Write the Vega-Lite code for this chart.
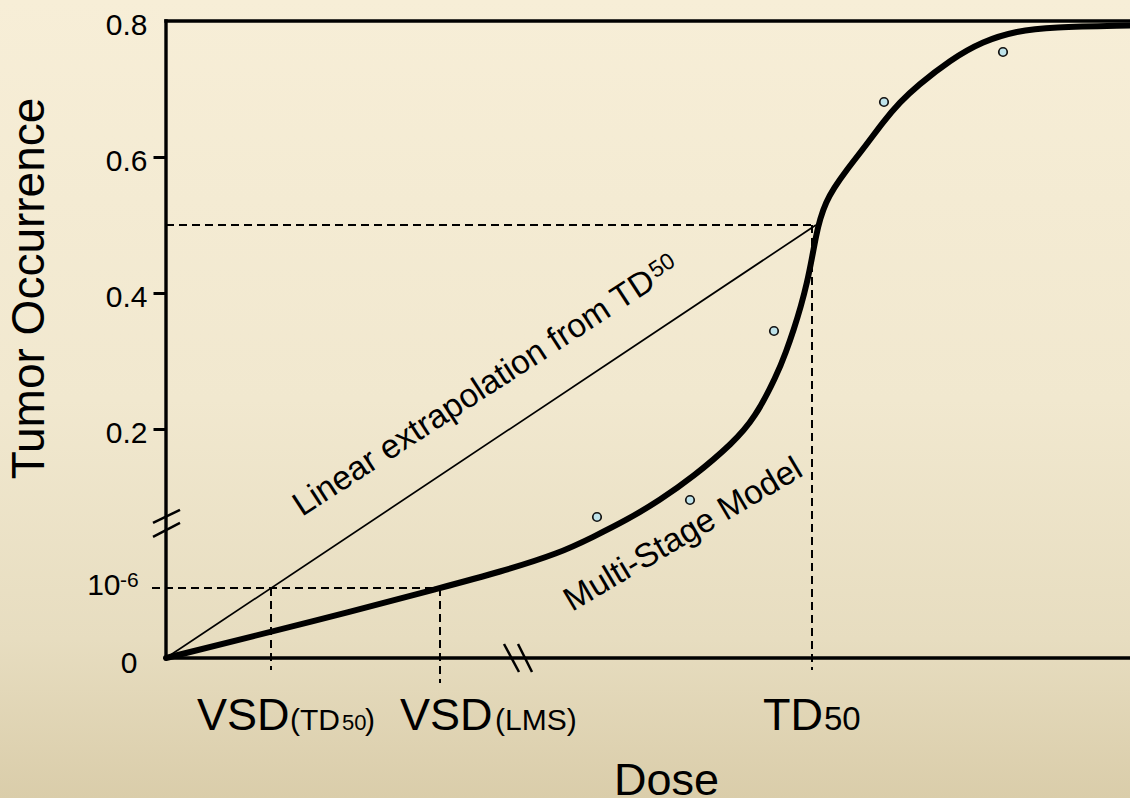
{
  "$schema": "https://vega.github.io/schema/vega-lite/v6.json",
  "width": 1130,
  "height": 798,
  "autosize": "none",
  "padding": 0,
  "background": "#efe6cc",
  "config": {
    "font": "Liberation Sans",
    "view": {
      "stroke": null,
      "fill": {
        "gradient": "linear",
        "x1": 0, "y1": 0, "x2": 0, "y2": 1,
        "stops": [
          {"offset": 0, "color": "#f7eed7"},
          {"offset": 0.5, "color": "#f1e8cf"},
          {"offset": 0.8, "color": "#e7ddc0"},
          {"offset": 1, "color": "#dacdaa"}
        ]
      }
    }
  },
  "encoding": {
    "x": {
      "field": "x", "type": "quantitative",
      "scale": {"domain": [-166, 964], "nice": false, "zero": false},
      "axis": {
        "orient": "bottom", "offset": -140, "domain": false, "ticks": false, "labels": false, "grid": false,
        "title": "Dose", "titleFont": "Liberation Sans", "titleFontSize": 45, "titleFontWeight": "normal", "titleColor": "black",
        "titleX": 666, "titleY": 136, "titleAlign": "center", "titleBaseline": "alphabetic"
      }
    },
    "y": {
      "field": "y", "type": "quantitative",
      "scale": {"domain": [-0.34265, 0.83088], "nice": false, "zero": false},
      "axis": {
        "orient": "left", "offset": -166, "domain": false, "grid": false,
        "values": [-0.1368, -0.0338, 0.2, 0.4, 0.6, 0.8],
        "labelExpr": "datum.value < -0.1 ? '0' : (datum.value < 0 ? '10' : format(datum.value, '.1f'))",
        "tickSize": 13, "tickWidth": 3, "tickColor": "black",
        "tickOpacity": {"condition": {"test": "datum.value < 0.1 || datum.value > 0.7", "value": 0}, "value": 1},
        "labelFont": "Liberation Sans", "labelFontSize": 30, "labelColor": "black",
        "labelPadding": {"condition": [{"test": "datum.value < -0.1", "value": 16}, {"test": "datum.value < 0", "value": 33}], "value": 6},
        "labelOffset": {"condition": {"test": "datum.value > -0.1 && datum.value < 0", "value": -2}, "value": 5},
        "labelOverlap": false, "labelFlush": false, "labelBound": false,
        "title": "Tumor Occurrence", "titleFont": "Liberation Sans", "titleFontSize": 46, "titleFontWeight": "normal", "titleColor": "black",
        "titleAngle": 270, "titleX": -123, "titleY": 288, "titleAlign": "center", "titleBaseline": "alphabetic"
      }
    }
  },
  "layer": [
    {
      "data": {"values": [
        {"x": 0, "y": 0.5, "x2": 650, "y2": 0.5},
        {"x": 646, "y": 0.5, "x2": 646, "y2": -0.1544},
        {"x": -14, "y": -0.0338, "x2": 274, "y2": -0.0338},
        {"x": 105, "y": -0.0338, "x2": 105, "y2": -0.1544},
        {"x": 274, "y": -0.0338, "x2": 274, "y2": -0.1735}
      ]},
      "mark": {"type": "rule", "color": "black", "strokeWidth": 2, "strokeDash": [8, 5]},
      "encoding": {"x2": {"field": "x2"}, "y2": {"field": "y2"}}
    },
    {
      "data": {"values": [
        {"x": 0, "y": -0.1368, "x2": 0, "y2": 0.8},
        {"x": 0, "y": -0.1368, "x2": 964, "y2": -0.1368},
        {"x": 0, "y": 0.8, "x2": 964, "y2": 0.8}
      ]},
      "mark": {"type": "rule", "color": "black", "strokeWidth": 3.4, "strokeCap": "square"},
      "encoding": {"x2": {"field": "x2"}, "y2": {"field": "y2"}}
    },
    {
      "data": {"values": [
        {"x": -13, "y": 0.0618, "x2": 14, "y2": 0.0809},
        {"x": -13, "y": 0.0412, "x2": 14, "y2": 0.0618},
        {"x": 338, "y": -0.1162, "x2": 353, "y2": -0.1574},
        {"x": 352, "y": -0.1162, "x2": 366, "y2": -0.1574}
      ]},
      "mark": {"type": "rule", "color": "black", "strokeWidth": 2.5},
      "encoding": {"x2": {"field": "x2"}, "y2": {"field": "y2"}}
    },
    {
      "data": {"values": [
        {"x": 0, "y": -0.1368, "x2": 650, "y2": 0.5}
      ]},
      "mark": {"type": "rule", "color": "black", "strokeWidth": 1.7},
      "encoding": {"x2": {"field": "x2"}, "y2": {"field": "y2"}}
    },
    {
      "data": {"values": [
        {"x": 0, "y": -0.1368}, {"x": 84, "y": -0.1059}, {"x": 184, "y": -0.0691}, {"x": 274, "y": -0.0338},
        {"x": 334, "y": -0.0103}, {"x": 394, "y": 0.0176}, {"x": 427, "y": 0.0412}, {"x": 461, "y": 0.0662},
        {"x": 494, "y": 0.0956}, {"x": 527, "y": 0.1294}, {"x": 567, "y": 0.1794}, {"x": 589, "y": 0.2162},
        {"x": 611, "y": 0.2794}, {"x": 620, "y": 0.3132}, {"x": 628, "y": 0.3471}, {"x": 635, "y": 0.3809},
        {"x": 641, "y": 0.4147}, {"x": 646, "y": 0.4515}, {"x": 650, "y": 0.4838}, {"x": 654, "y": 0.5088},
        {"x": 660, "y": 0.5338}, {"x": 668, "y": 0.5544}, {"x": 679, "y": 0.5779}, {"x": 701, "y": 0.6191},
        {"x": 717, "y": 0.6515}, {"x": 734, "y": 0.6809}, {"x": 751, "y": 0.7044}, {"x": 784, "y": 0.7426},
        {"x": 817, "y": 0.7706}, {"x": 851, "y": 0.7853}, {"x": 884, "y": 0.7912}, {"x": 964, "y": 0.7934}
      ]},
      "mark": {"type": "line", "color": "black", "strokeWidth": 6, "interpolate": "basis", "strokeCap": "round"},
      "encoding": {"order": {"field": "x", "type": "quantitative"}}
    },
    {
      "data": {"values": [
        {"x": 431, "y": 0.0706}, {"x": 524, "y": 0.0956}, {"x": 608, "y": 0.3441}, {"x": 718, "y": 0.6809}, {"x": 837, "y": 0.7544}
      ]},
      "mark": {"type": "point", "filled": true, "fill": "#bfe3ea", "stroke": "#111111", "strokeWidth": 1.7, "size": 72, "opacity": 1, "fillOpacity": 1, "strokeOpacity": 1}
    },
    {
      "data": {"values": [
        {"x": 31, "y": -0.2426, "t": "VSD"}, {"x": 234, "y": -0.2426, "t": "VSD"}, {"x": 597, "y": -0.2426, "t": "TD"}
      ]},
      "mark": {"type": "text", "align": "left", "baseline": "alphabetic", "fontSize": 45, "color": "black", "font": "Liberation Sans"},
      "encoding": {"text": {"field": "t"}}
    },
    {
      "data": {"values": [
        {"x": 124, "y": -0.2426, "t": "(TD"}, {"x": 199, "y": -0.2426, "t": ")"}, {"x": 329, "y": -0.2426, "t": "(LMS)"}
      ]},
      "mark": {"type": "text", "align": "left", "baseline": "alphabetic", "fontSize": 30, "color": "black", "font": "Liberation Sans"},
      "encoding": {"text": {"field": "t"}}
    },
    {
      "data": {"values": [
        {"x": 658, "y": -0.2426, "t": "50"}
      ]},
      "mark": {"type": "text", "align": "left", "baseline": "alphabetic", "fontSize": 33, "color": "black", "font": "Liberation Sans"},
      "encoding": {"text": {"field": "t"}}
    },
    {
      "data": {"values": [
        {"x": 176, "y": -0.2426, "t": "50"}
      ]},
      "mark": {"type": "text", "align": "left", "baseline": "alphabetic", "fontSize": 22, "color": "black", "font": "Liberation Sans"},
      "encoding": {"text": {"field": "t"}}
    },
    {
      "data": {"values": [
        {"x": -46, "y": -0.0324, "t": "-6"}
      ]},
      "mark": {"type": "text", "align": "left", "baseline": "alphabetic", "fontSize": 21, "color": "black", "font": "Liberation Sans"},
      "encoding": {"text": {"field": "t"}}
    },
    {
      "data": {"values": [
        {"x": 136, "y": 0.0706, "t": "Linear extrapolation from TD"}
      ]},
      "mark": {"type": "text", "align": "left", "baseline": "alphabetic", "fontSize": 33.5, "angle": 327, "color": "black", "font": "Liberation Sans"},
      "encoding": {"text": {"field": "t"}}
    },
    {
      "data": {"values": [
        {"x": 136, "y": 0.0706, "t": "50"}
      ]},
      "mark": {"type": "text", "align": "left", "baseline": "alphabetic", "fontSize": 23, "angle": 327, "dx": 426, "dy": -7.5, "color": "black", "font": "Liberation Sans"},
      "encoding": {"text": {"field": "t"}}
    },
    {
      "data": {"values": [
        {"x": 406, "y": -0.0691, "t": "Multi-Stage Model"}
      ]},
      "mark": {"type": "text", "align": "left", "baseline": "alphabetic", "fontSize": 33.5, "angle": 329.5, "color": "black", "font": "Liberation Sans"},
      "encoding": {"text": {"field": "t"}}
    }
  ]
}
